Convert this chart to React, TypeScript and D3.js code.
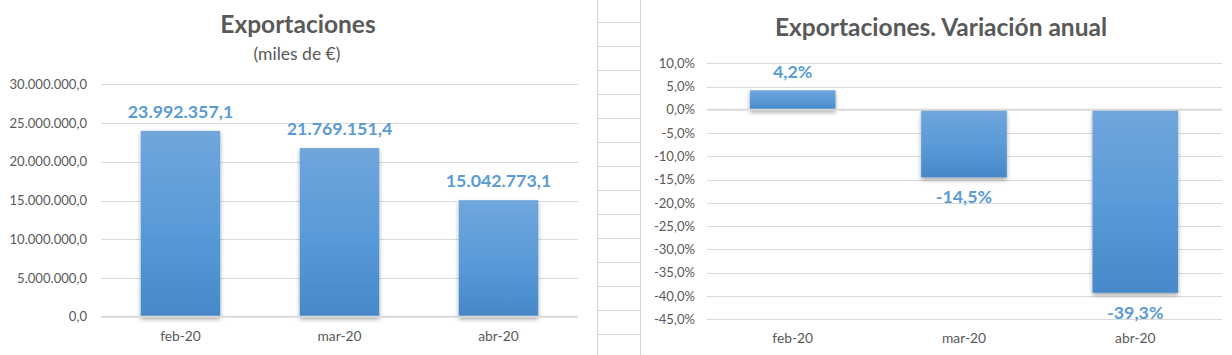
import React from "react";
import * as d3 from "d3";

const categories = ["feb-20", "mar-20", "abr-20"];
const exportValues = [23992357.1, 21769151.4, 15042773.1];
const variationValues = [4.2, -14.5, -39.3];
const leftTicks = [0, 5000000, 10000000, 15000000, 20000000, 25000000, 30000000];
const rightTicks = [10, 5, 0, -5, -10, -15, -20, -25, -30, -35, -40, -45];

const loc = d3.formatLocale({ decimal: ",", thousands: ".", grouping: [3], currency: ["", "€"], minus: "-" });
const fmtNum = loc.format(",.1f");
const fmtPct = (v: number) => loc.format(".1f")(v) + "%";

const FONT = "Lato, 'Noto Sans', sans-serif";
const TEXT = "#595959";
const GRID = "#d9d9d9";
const LABEL = "#5b9bd5";

export default function App() {
  const W = 1232, H = 355;

  // left chart
  const xL = d3.scaleBand<string>().domain(categories).range([101, 578]).paddingInner(0.5).paddingOuter(0.25);
  const yL = d3.scaleLinear().domain([0, 30000000]).range([316.7, 84.3]);

  // right chart
  const xR = d3.scaleBand<string>().domain(categories).range([707, 1221]).paddingInner(0.5).paddingOuter(0.25);
  const yR = d3.scaleLinear().domain([-45, 10]).range([319.3, 63.3]);

  const cellLines = d3.range(0, 14).map((i) => 22 + 24 * i);

  return (
    <svg width={W} height={H} style={{ position: "absolute", left: 0, top: 0, background: "#fff" }} fontFamily={FONT}>
      <defs>
        <linearGradient id="barGrad" x1="0" y1="0" x2="0" y2="1">
          <stop offset="0%" stopColor="#70a6dc" />
          <stop offset="50%" stopColor="#5a9bd8" />
          <stop offset="100%" stopColor="#4788c8" />
        </linearGradient>
        <filter id="shadow" x="-20%" y="-20%" width="140%" height="150%">
          <feDropShadow dx="0" dy="2.5" stdDeviation="2" floodColor="#000" floodOpacity="0.35" />
        </filter>
      </defs>

      {/* spreadsheet cells between the charts */}
      <rect x={598} y={0} width={43} height={H} fill="#fff" />
      {cellLines.map((y) => (
        <line key={y} x1={598} x2={641} y1={y + 0.5} y2={y + 0.5} stroke="#d4d4d4" />
      ))}
      <line x1={597.5} x2={597.5} y1={0} y2={H} stroke="#d4d4d4" />
      <line x1={640.5} x2={640.5} y1={0} y2={H} stroke="#d4d4d4" />

      {/* LEFT CHART */}
      <text x={298} y={33} textAnchor="middle" fontSize={24.5} fontWeight="bold" fill={TEXT}>Exportaciones</text>
      <text x={297} y={60} textAnchor="middle" fontSize={17.5} fill={TEXT}>(miles de €)</text>
      {leftTicks.map((t) => (
        <g key={t}>
          {t !== 0 && <line x1={101} x2={578} y1={Math.round(yL(t)) + 0.5} y2={Math.round(yL(t)) + 0.5} stroke={GRID} />}
          <text x={87} y={yL(t)} dy="0.35em" textAnchor="end" fontSize={13.1} fill={TEXT}>{fmtNum(t)}</text>
        </g>
      ))}
      {categories.map((c, i) => (
        <g key={c}>
          <rect x={xL(c)} y={yL(exportValues[i])} width={xL.bandwidth()} height={yL(0) - yL(exportValues[i])} fill="url(#barGrad)" filter="url(#shadow)" />
          <text x={xL(c)! + xL.bandwidth() / 2} y={yL(exportValues[i]) - 13} textAnchor="middle" fontSize={17.8} fontWeight="bold" fill={LABEL}>{fmtNum(exportValues[i])}</text>
          <text x={xL(c)! + xL.bandwidth() / 2} y={341} textAnchor="middle" fontSize={13.8} fill={TEXT}>{c}</text>
        </g>
      ))}
      <line x1={101} x2={578} y1={yL(0)} y2={yL(0)} stroke={GRID} strokeWidth={2} />

      {/* RIGHT CHART */}
      <text x={941} y={36} textAnchor="middle" fontSize={24.5} fontWeight="bold" fill={TEXT}>Exportaciones. Variación anual</text>
      {rightTicks.map((t) => (
        <g key={t}>
          {t !== 0 && <line x1={707} x2={1222} y1={Math.round(yR(t)) + 0.5} y2={Math.round(yR(t)) + 0.5} stroke={GRID} />}
          <text x={695} y={yR(t)} dy="0.35em" textAnchor="end" fontSize={13.1} fill={TEXT}>{fmtPct(t)}</text>
        </g>
      ))}
      {categories.map((c, i) => {
        const v = variationValues[i];
        const top = yR(Math.max(0, v));
        const bot = yR(Math.min(0, v));
        const cx = xR(c)! + xR.bandwidth() / 2;
        return (
          <g key={c}>
            <rect x={xR(c)} y={top} width={xR.bandwidth()} height={bot - top} fill="url(#barGrad)" filter="url(#shadow)" />
            <text x={cx} y={v >= 0 ? top - 12.5 : bot + 26} textAnchor="middle" fontSize={17.8} fontWeight="bold" fill={LABEL}>{fmtPct(v)}</text>
            <text x={cx} y={343} textAnchor="middle" fontSize={13.8} fill={TEXT}>{c}</text>
          </g>
        );
      })}
      <line x1={707} x2={1222} y1={yR(0)} y2={yR(0)} stroke={GRID} strokeWidth={2} />
    </svg>
  );
}
